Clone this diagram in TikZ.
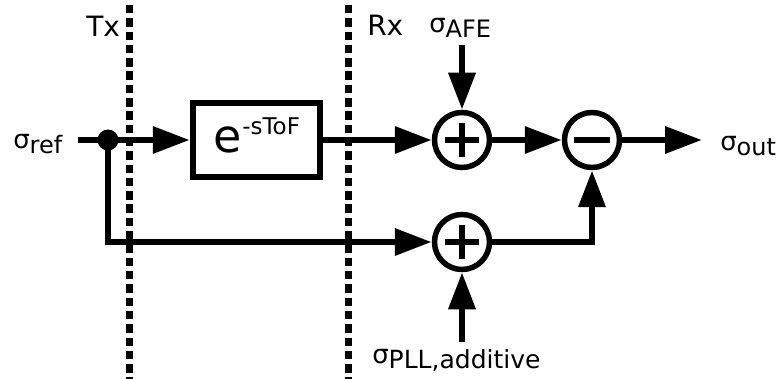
\documentclass[tikz,border=0pt]{standalone}
\usepackage{fontspec}
\setmainfont{DejaVu Sans}
\usetikzlibrary{arrows.meta}
\newcommand\sgsub[2][24]{σ\raisebox{-5pt}{\fontsize{#1}{#1}\selectfont #2}}
\begin{document}
\begin{tikzpicture}[x=1pt,y=-1pt,
  line width=6.5pt,
  arr/.style={-{Triangle[length=37pt,width=26pt]}},
  sumnode/.style={circle,draw,line width=5.5pt,minimum size=55pt,inner sep=0pt},
  blockbox/.style={draw,line width=6.5pt,minimum width=127pt,minimum height=74pt,inner sep=0pt},
  lbl/.style={inner sep=0pt,anchor=base west,font=\fontsize{26}{30}\selectfont},
  sign/.style={line width=5.5pt},
  divider/.style={line width=7pt,dash pattern=on 8.5pt off 4.8pt}]
\useasboundingbox (0,0) rectangle (784,379);
% dividers
\coordinate (txtop) at (129.5,5);
\coordinate (txbot) at (129.5,379);
\coordinate (rxtop) at (348.5,5);
\coordinate (rxbot) at (348.5,379);
\draw[divider] (txtop) -- (txbot);
\draw[divider] (rxtop) -- (rxbot);
\node[lbl,font=\fontsize{28}{30}\selectfont] (tx) at (83,37) {Tx};
\node[lbl,font=\fontsize{28}{30}\selectfont] (rx) at (364,36) {Rx};
% nodes
\node[lbl] (ref) at (10,149) {\sgsub{ref}};
\coordinate (start) at (78,140);
\node[blockbox] (box) at (256.5,140) {};
\node[inner sep=0pt,anchor=base] (boxtxt) at (257,153) {\fontsize{46}{46}\selectfont e\raisebox{18pt}{\fontsize{23}{23}\selectfont -sToF}};
\node[sumnode] (add1) at (462,140) {};
\node[sumnode] (sub) at (592,140) {};
\node[sumnode] (add2) at (462,242) {};
\coordinate (outc) at (702,140);
\node[lbl] (out) at (717,151) {\sgsub{out}};
\node[lbl] (afe) at (426,33) {\sgsub{AFE}};
\coordinate (afetop) at (462,45);
\node[lbl] (pll) at (369,363) {\sgsub[25]{PLL,additive}};
\coordinate (pllbot) at (462,342);
% symbols in circles
\draw[sign] ([xshift=-17pt]add1.center) -- ([xshift=17pt]add1.center);
\draw[sign] ([yshift=-17pt]add1.center) -- ([yshift=17pt]add1.center);
\draw[sign] ([xshift=-17pt]add2.center) -- ([xshift=17pt]add2.center);
\draw[sign] ([yshift=-17pt]add2.center) -- ([yshift=17pt]add2.center);
\draw[sign,line width=6pt] ([xshift=-18pt]sub.center) -- ([xshift=18pt]sub.center);
% connectors
\node[circle,fill,inner sep=0pt,minimum size=21pt] (dot) at (108,140) {};
\draw[arr] (start) -- (box.west);
\draw[arr] (box.east) -- (add1.west);
\draw[arr] (add1) -- (sub);
\draw[arr] (sub) -- (outc);
\draw[arr] (afetop) -- (add1.north);
\draw[arr] (pllbot) -- (add2.south);
\draw[arr] (dot.center) |- (add2.west);
\draw[arr] (add2.east) -| (sub.south);
\end{tikzpicture}
\end{document}
